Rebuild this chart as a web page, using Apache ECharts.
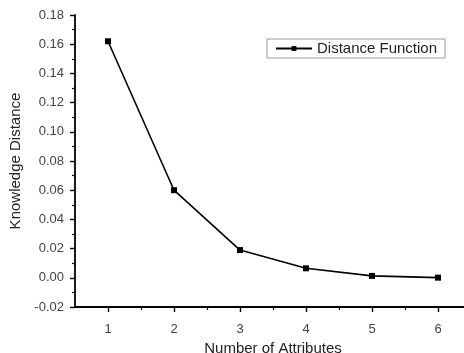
<!DOCTYPE html>
<html><head><meta charset="utf-8">
<script src="https://cdn.jsdelivr.net/npm/echarts@6/dist/echarts.min.js"></script>
<style>html,body{margin:0;padding:0;background:#fff}#c{width:464px;height:353px}</style>
</head><body><div id="c"></div>
<script>
const attributeCounts = [1, 2, 3, 4, 5, 6];
const distanceValues = [0.162, 0.060, 0.019, 0.0065, 0.0013, 0.0001];
const xMinorTicks = [1.5, 2.5, 3.5, 4.5, 5.5];
const yTickMin = -0.02, yTickMax = 0.18, yTickStep = 0.02;
const seriesName = 'Distance Function';
const xTitle = 'Number of Attributes';
const yTitle = 'Knowledge Distance';

const font = 'Liberation Sans, Arial, sans-serif';
const seriesData = attributeCounts.map((x, i) => [x, distanceValues[i]]);
const chart = echarts.init(document.getElementById('c'));
chart.setOption({
  animation: false,
  backgroundColor: '#fff',
  grid: { left: 75, top: 15, bottom: 46, right: -7, containLabel: false, outerBoundsMode: 'none' },
  legend: {
    data: [seriesName], left: 267, top: 39,
    borderColor: '#999', borderWidth: 1, padding: [2, 8, 2, 8],
    itemWidth: 36, itemHeight: 6,
    textStyle: { fontFamily: font, fontSize: 15, color: '#222' }
  },
  xAxis: [{
    type: 'value', min: 0.5, max: 6.5, position: 'bottom',
    name: xTitle, nameLocation: 'middle', nameGap: 32,
    nameTextStyle: { fontFamily: font, fontSize: 15, color: '#222' },
    axisLine: { onZero: false, lineStyle: { color: '#000', width: 1.8 } },
    axisTick: { show: true, customValues: attributeCounts, length: 5, lineStyle: { color: '#000', width: 1.4 } },
    axisLabel: { customValues: attributeCounts, fontFamily: font, fontSize: 13, color: '#444', margin: 16 },
    splitLine: { show: false }
  }, {
    type: 'value', min: 0.5, max: 6.5, position: 'bottom',
    axisLine: { show: false, onZero: false },
    axisTick: { show: true, customValues: xMinorTicks, length: 3, lineStyle: { color: '#000', width: 1.2 } },
    axisLabel: { show: false }, splitLine: { show: false }
  }],
  yAxis: {
    type: 'value', min: yTickMin, max: yTickMax, interval: yTickStep,
    name: yTitle, nameLocation: 'middle', nameGap: 41,
    nameTextStyle: { fontFamily: font, fontSize: 15, color: '#222' },
    axisLine: { show: true, lineStyle: { color: '#000', width: 1.8 } },
    axisTick: { show: true, length: 5, lineStyle: { color: '#000', width: 1.4 } },
    minorTick: { show: true, splitNumber: 2, length: 3, lineStyle: { color: '#000', width: 1.2 } },
    axisLabel: { fontFamily: font, fontSize: 13, color: '#444', margin: 11,
      formatter: v => v.toFixed(2) },
    splitLine: { show: false }
  },
  series: [{
    name: seriesName, type: 'line', data: seriesData, xAxisIndex: 0,
    symbol: 'rect', symbolSize: 6,
    lineStyle: { color: '#000', width: 1.6 },
    itemStyle: { color: '#000' }
  }]
});
</script></body></html>
